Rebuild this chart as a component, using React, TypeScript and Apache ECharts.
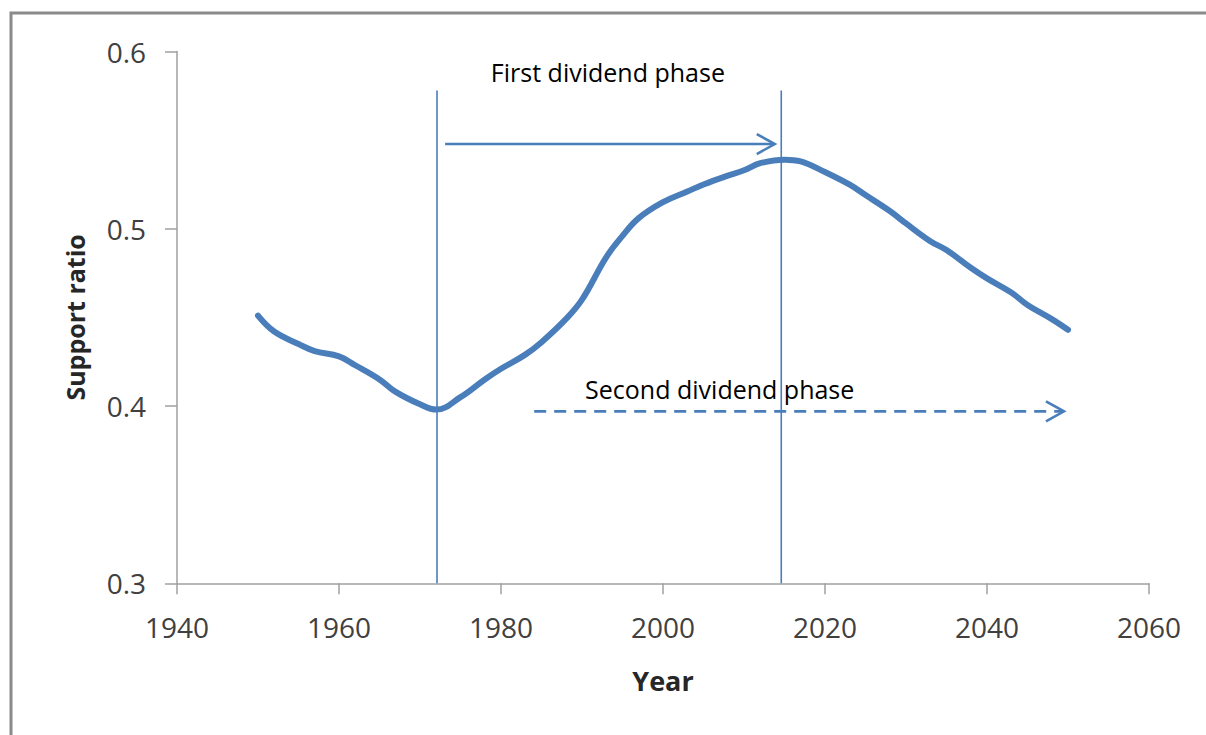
import React, { useEffect, useRef } from "react";
import * as echarts from "echarts";

// ---- data ----
const years = [
  1950, 1952, 1955, 1957, 1960, 1962, 1965, 1967, 1970, 1972, 1975, 1978, 1980, 1983, 1985, 1988, 1990, 1993, 1995,
  1997, 2000, 2003, 2005, 2008, 2010, 2012, 2015, 2017, 2020, 2023, 2025, 2028, 2030, 2033, 2035, 2038, 2040, 2043,
  2045, 2048, 2050,
];
const supportRatio = [
  0.451, 0.442, 0.435, 0.431, 0.428, 0.423, 0.415, 0.408, 0.401, 0.398, 0.405, 0.415, 0.421, 0.429, 0.436, 0.449,
  0.46, 0.484, 0.496, 0.506, 0.515, 0.521, 0.525, 0.53, 0.533, 0.537, 0.539, 0.538, 0.532, 0.525, 0.519, 0.51,
  0.503, 0.493, 0.488, 0.478, 0.472, 0.464, 0.457, 0.449, 0.443,
];

const xMin = 1940;
const xMax = 2060;
const xInterval = 20;
const yMin = 0.3;
const yMax = 0.6;
const yInterval = 0.1;

// vertical phase boundaries (year, top value)
const phaseYears = [1972.1, 2014.6];
const phaseTop = [0.578, 0.578];

// arrows: start year, end year, level
const arrowStart = [1973.1, 1984.1];
const arrowEnd = [2013.8, 2049.5];
const arrowLevel = [0.5478, 0.397];

// annotation texts
const noteTexts = ["First dividend phase", "Second dividend phase"];
const noteX = [1993.2, 2007.0];
const noteY = [0.5884, 0.4098];

const BLUE = "#4a7ebb";
const FONT = "'Open Sans', 'Liberation Sans', sans-serif";

export default function App() {
  const ref = useRef<HTMLDivElement>(null);

  useEffect(() => {
    if (!ref.current) return;
    const chart = echarts.init(ref.current, undefined, { renderer: "svg" });

    const option: any = {
      animation: false,
      backgroundColor: "#ffffff",
      graphic: [
        {
          type: "rect",
          shape: { x: 11, y: 13, width: 1400, height: 1000 },
          style: { fill: "none", stroke: "#8a8a8a", lineWidth: 3 },
          silent: true,
        },
      ],
      grid: { left: 177, right: 57, top: 51.5, bottom: 151.7, containLabel: false },
      xAxis: {
        type: "value",
        min: xMin,
        max: xMax,
        interval: xInterval,
        name: "Year",
        nameLocation: "middle",
        nameGap: 84,
        nameTextStyle: { fontFamily: FONT, fontSize: 27, fontWeight: "bold", color: "#262626" },
        axisLine: { lineStyle: { color: "#a0a0a0", width: 1.5 } },
        axisTick: { show: true, inside: false, length: 11, lineStyle: { color: "#a0a0a0", width: 1.5 } },
        axisLabel: { fontFamily: FONT, fontSize: 28, color: "#404040", margin: 30, formatter: (v: number) => String(v) },
        splitLine: { show: false },
      },
      yAxis: {
        type: "value",
        min: yMin,
        max: yMax,
        interval: yInterval,
        name: "Support ratio",
        nameLocation: "middle",
        nameGap: 90,
        nameRotate: 90,
        nameTextStyle: { fontFamily: FONT, fontSize: 25, fontWeight: "bold", color: "#262626" },
        axisLine: { show: true, lineStyle: { color: "#a0a0a0", width: 1.5 } },
        axisTick: { show: true, inside: false, length: 12, lineStyle: { color: "#a0a0a0", width: 1.5 } },
        axisLabel: { fontFamily: FONT, fontSize: 28, color: "#404040", margin: 31, formatter: (v: number) => v.toFixed(1) },
        splitLine: { show: false },
      },
      series: [
        {
          type: "line",
          data: years.map((y, i) => [y, supportRatio[i]]),
          smooth: 0.4,
          showSymbol: false,
          symbol: "none",
          lineStyle: { color: BLUE, width: 6, cap: "round", join: "round" },
          z: 2,
        },
        {
          type: "custom",
          clip: false,
          z: 5,
          data: phaseYears.map((x, i) => [x, phaseTop[i]]),
          renderItem: (params: any, api: any) => {
            const top = api.coord([api.value(0), api.value(1)]);
            const bottom = api.coord([api.value(0), yMin]);
            return {
              type: "line",
              shape: { x1: top[0], y1: top[1], x2: bottom[0], y2: bottom[1] },
              style: { stroke: BLUE, lineWidth: 1.6 },
            };
          },
        },
        {
          type: "custom",
          clip: false,
          z: 4,
          data: arrowStart.map((s, i) => [s, arrowEnd[i], arrowLevel[i]]),
          renderItem: (params: any, api: any) => {
            const a = api.coord([api.value(0), api.value(2)]);
            const b = api.coord([api.value(1), api.value(2)]);
            const dashed = params.dataIndex === 1;
            return {
              type: "group",
              children: [
                {
                  type: "line",
                  shape: { x1: a[0], y1: a[1], x2: b[0] - 1, y2: b[1] },
                  style: { stroke: BLUE, lineWidth: 2.6, lineDash: dashed ? [12, 8] : null },
                },
                {
                  type: "polyline",
                  shape: {
                    points: [
                      [b[0] - 18, b[1] - 10],
                      [b[0], b[1]],
                      [b[0] - 18, b[1] + 10],
                    ],
                  },
                  style: { stroke: BLUE, lineWidth: 2.6, fill: "none" },
                },
              ],
            };
          },
        },
        {
          type: "custom",
          clip: false,
          z: 6,
          data: noteX.map((x, i) => [x, noteY[i]]),
          renderItem: (params: any, api: any) => {
            const p = api.coord([api.value(0), api.value(1)]);
            return {
              type: "text",
              x: p[0],
              y: p[1],
              style: {
                text: noteTexts[params.dataIndex],
                fill: "#000000",
                fontFamily: FONT,
                fontSize: 25,
                align: "center",
                verticalAlign: "middle",
              },
            };
          },
        },
      ],
    };

    chart.setOption(option);
    return () => chart.dispose();
  }, []);

  return (
    <div
      ref={ref}
      style={{ position: "absolute", left: 0, top: 0, width: 1206, height: 735, background: "#fff" }}
    />
  );
}
